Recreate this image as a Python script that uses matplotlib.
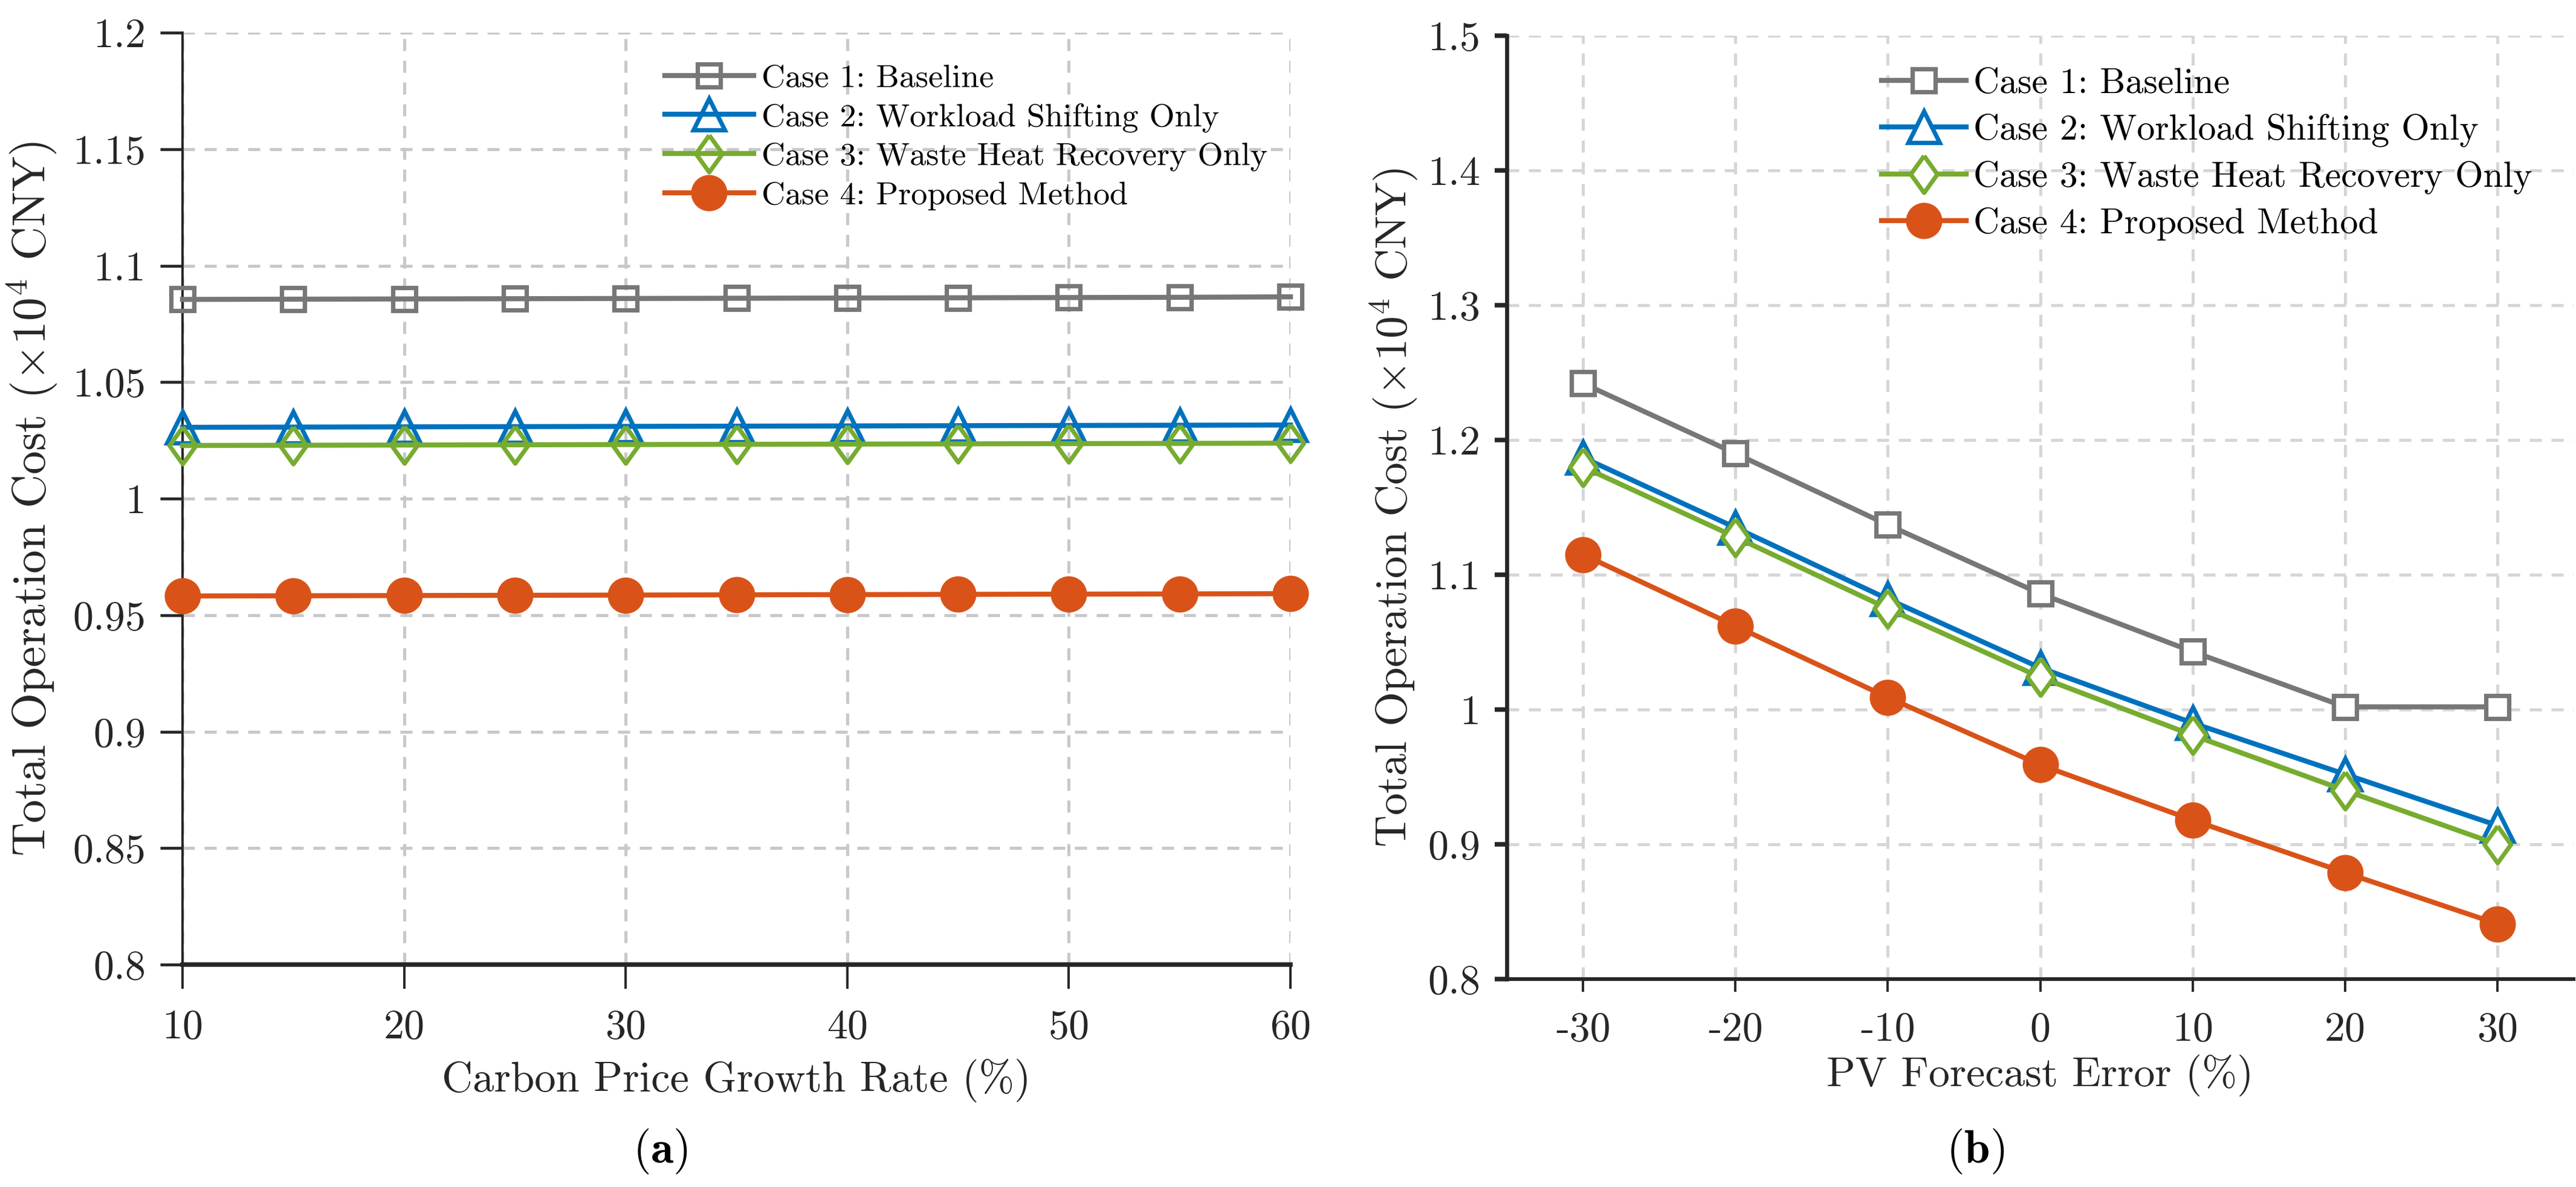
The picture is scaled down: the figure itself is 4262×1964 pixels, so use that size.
import matplotlib
matplotlib.use("Agg")
import matplotlib.pyplot as plt
import numpy as np

plt.rcParams['font.family'] = ['cmr10', 'DejaVu Serif']
plt.rcParams['mathtext.fontset'] = 'cm'
plt.rcParams['axes.unicode_minus'] = False
plt.rcParams['axes.formatter.use_mathtext'] = True

# ---------------- data ----------------
carbon_rate = [10, 15, 20, 25, 30, 35, 40, 45, 50, 55, 60]
a_case1 = [1.0855, 1.0856, 1.0857, 1.0858, 1.0859, 1.0860, 1.0861, 1.0862, 1.0863, 1.0864, 1.0866]
a_case2 = [1.0306, 1.0307, 1.0308, 1.0309, 1.0310, 1.0311, 1.0312, 1.0313, 1.0314, 1.0315, 1.0316]
a_case3 = [1.0228, 1.0229, 1.0230, 1.0231, 1.0232, 1.0233, 1.0234, 1.0235, 1.0236, 1.0237, 1.0238]
a_case4 = [0.9582, 0.9583, 0.9584, 0.9585, 0.9586, 0.9587, 0.9588, 0.9589, 0.9590, 0.9591, 0.9592]

pv_error = [-30, -20, -10, 0, 10, 20, 30]
b_case1 = [1.242, 1.190, 1.137, 1.086, 1.043, 1.002, 1.002]
b_case2 = [1.187, 1.135, 1.082, 1.031, 0.990, 0.952, 0.914]
b_case3 = [1.180, 1.128, 1.075, 1.024, 0.981, 0.940, 0.900]
b_case4 = [1.115, 1.062, 1.009, 0.959, 0.918, 0.879, 0.841]

labels = ["Case 1: Baseline", "Case 2: Workload Shifting Only",
          "Case 3: Waste Heat Recovery Only", "Case 4: Proposed Method"]
colors = ["#777777", "#0072BD", "#77AC30", "#D95319"]

a_xticks = [10, 20, 30, 40, 50, 60]
a_yticks = [0.8, 0.85, 0.9, 0.95, 1.0, 1.05, 1.1, 1.15, 1.2]
a_yticklabels = ["0.8", "0.85", "0.9", "0.95", "1", "1.05", "1.1", "1.15", "1.2"]
b_xticks = [-30, -20, -10, 0, 10, 20, 30]
b_xticklabels = ["-30", "-20", "-10", "0", "10", "20", "30"]
b_yticks = [0.8, 0.9, 1.0, 1.1, 1.2, 1.3, 1.4, 1.5]
b_yticklabels = ["0.8", "0.9", "1", "1.1", "1.2", "1.3", "1.4", "1.5"]

ylabel = r"Total Operation Cost ($\times 10^4$ CNY)"

diamond = [(0, 1), (0.72, 0), (0, -1), (-0.72, 0), (0, 1)]

W, H = 4262, 1964
DPI = 200
fig = plt.figure(figsize=(W / DPI, H / DPI), dpi=DPI)

def fx(px):
    return px / W

def fy(py):
    return 1 - py / H

axA = fig.add_axes([fx(302), fy(1596), fx(2135) - fx(302), fy(54) - fy(1596)])
axB = fig.add_axes([fx(2493), fy(1620), fx(4258) - fx(2493), fy(59) - fy(1620)])

spine_col = "#262626"

def style(ax, grid_col, lw_y, lw_x, ticklen):
    for s in ["top", "right"]:
        ax.spines[s].set_visible(False)
    ax.spines["left"].set_linewidth(lw_y)
    ax.spines["bottom"].set_linewidth(lw_x)
    ax.spines["left"].set_color(spine_col)
    ax.spines["bottom"].set_color(spine_col)
    ax.tick_params(axis="y", direction="out", length=ticklen[1], width=lw_y + 0.3,
                   colors=spine_col, labelsize=24.5, pad=8.5)
    ax.tick_params(axis="x", direction="out", length=ticklen[0], width=1.4,
                   colors=spine_col, labelsize=24.5, pad=12)
    ax.grid(True, color=grid_col, linewidth=1.8, linestyle=(0, (4.0, 3.2)))
    ax.set_axisbelow(True)

markers = ["s", "^", diamond, "o"]
msizes = [13.5, 18.5, 22, 19]

# ---------- panel (a) ----------
style(axA, "#c8c8c8", 1.4, 2.7, (14.5, 13.3))
seriesA = [a_case1, a_case2, a_case3, a_case4]
for i, ys in enumerate(seriesA):
    fc = colors[i] if i == 3 else "none"
    axA.plot(carbon_rate, ys, color=colors[i], lw=3.0, marker=markers[i],
             ms=msizes[i], mfc=fc, mec=colors[i], mew=2.6, label=labels[i],
             clip_on=False, zorder=3)
axA.set_xlim(10, 60)
axA.set_ylim(0.8, 1.2)
axA.set_xticks(a_xticks)
axA.set_xticklabels([str(v) for v in a_xticks])
axA.set_yticks(a_yticks)
axA.set_yticklabels(a_yticklabels)
axA.set_xlabel("Carbon Price Growth Rate (%)", fontsize=25.4, color=spine_col, va="center")
axA.xaxis.set_label_coords(0.5, (1596 - 1788) / (1596 - 54))
axA.set_ylabel(ylabel, fontsize=27.9, color=spine_col, va="center")
axA.yaxis.set_label_coords((53 - 302) / (2135 - 302), 0.5)
legA = axA.legend(loc="upper left", bbox_to_anchor=(fx(1100), fy(106)),
                  bbox_transform=fig.transFigure, frameon=False, fontsize=19.5,
                  handlelength=2.71, handletextpad=0.24, labelspacing=0.3,
                  borderpad=0, borderaxespad=0)

# ---------- panel (b) ----------
style(axB, "#d6d6d6", 2.4, 2.2, (7.5, 7.2))
seriesB = [b_case1, b_case2, b_case3, b_case4]
for i, ys in enumerate(seriesB):
    fc = colors[i] if i == 3 else "white"
    axB.plot(pv_error, ys, color=colors[i], lw=3.0, marker=markers[i],
             ms=msizes[i], mfc=fc, mec=colors[i], mew=2.6, label=labels[i],
             clip_on=False, zorder=3)
axB.set_xlim(-35, 35)
axB.set_ylim(0.8, 1.5)
axB.set_xticks(b_xticks)
axB.set_xticklabels(b_xticklabels)
axB.set_yticks(b_yticks)
axB.set_yticklabels(b_yticklabels)
axB.set_xlabel("PV Forecast Error (%)", fontsize=25.2, color=spine_col, va="center")
axB.xaxis.set_label_coords(0.5, (1620 - 1779) / (1620 - 59))
axB.set_ylabel(ylabel, fontsize=26.5, color=spine_col, va="center")
axB.yaxis.set_label_coords((2306 - 2493) / (4258 - 2493), 0.5)
legB = axB.legend(loc="upper left", bbox_to_anchor=(fx(3113), fy(112)),
                  bbox_transform=fig.transFigure, frameon=False, fontsize=21.5,
                  handlelength=2.34, handletextpad=0.2, labelspacing=0.37,
                  borderpad=0, borderaxespad=0)

fig.text(fx(1093), fy(1905), r"($\mathbf{a}$)", ha="center", va="center", fontsize=27.5)
fig.text(fx(3268), fy(1905), r"($\mathbf{b}$)", ha="center", va="center", fontsize=27.5)

fig.savefig("out.png", dpi=DPI)
